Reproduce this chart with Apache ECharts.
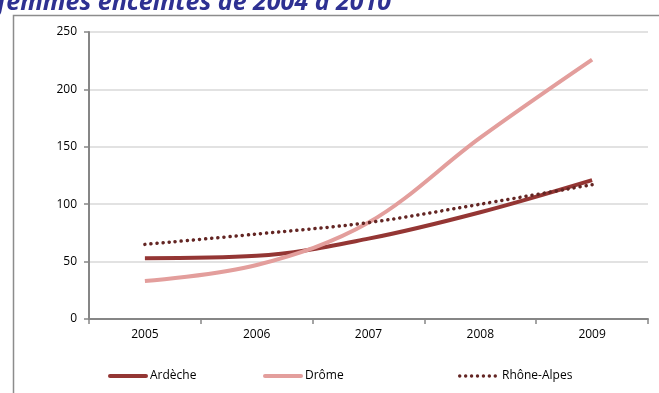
<!DOCTYPE html>
<html>
<head>
<meta charset="utf-8">
<script src="https://cdn.jsdelivr.net/npm/echarts@6/dist/echarts.min.js"></script>
<style>
  html, body { margin: 0; padding: 0; background: #fff; }
  #chart { width: 659px; height: 393px; }
</style>
</head>
<body>
<div id="chart"></div>
<script>
// années
var years = ['2005', '2006', '2007', '2008', '2009'];
// séries
var ardeche = [53, 55, 70, 93, 121];
var drome = [33, 47, 84, 158, 226];
var rhoneAlpes = [65, 74, 84, 100, 117];
var yTicks = [0, 50, 100, 150, 200, 250];

var chart = echarts.init(document.getElementById('chart'));

var barIcon = 'path://M2,0H38A2,2 0 0 1 38,4H2A2,2 0 0 1 2,0Z';
var dotIcon = 'path://';
for (var i = 0; i < 7; i++) {
  var cx = 1.75 + i * 6;
  dotIcon += 'M' + (cx - 1.75) + ',1.75a1.75,1.75 0 1,0 3.5,0a1.75,1.75 0 1,0 -3.5,0Z';
}

function leg(name, x, icon, w, h, pad) {
  return {
    left: x, bottom: 6,
    itemWidth: w, itemHeight: h,
    icon: icon,
    textStyle: { fontSize: 12, color: '#000', padding: [0, 0, 0, pad] },
    data: [{ name: name, icon: icon }]
  };
}

var option = {
  animation: false,
  textStyle: { fontFamily: 'Open Sans' },
  graphic: [
    {
      type: 'text', left: -3, top: -10,
      style: {
        text: 'femmes enceintes de 2004 à 2010',
        font: 'italic bold 25px "Open Sans"',
        fill: '#2E3192'
      }
    },
    {
      type: 'rect', left: 11, top: 13,
      shape: { width: 660, height: 400 },
      style: { fill: 'none', stroke: '#8C8C8C', lineWidth: 1.5 }
    }
  ],
  grid: { left: 89, right: 11, top: 32, bottom: 74 },
  legend: [
    leg('Ardèche', 103, barIcon, 40, 4, -3),
    leg('Drôme', 258, barIcon, 40, 4, -3),
    leg('Rhône-Alpes', 453, dotIcon, 39, 3.5, 0)
  ],
  xAxis: {
    type: 'category',
    data: years,
    boundaryGap: true,
    axisLine: { lineStyle: { color: '#868686', width: 2 } },
    axisTick: { show: true, length: 5, lineStyle: { color: '#868686', width: 1.5 } },
    axisLabel: { color: '#000', fontSize: 12, margin: 10 }
  },
  yAxis: {
    type: 'value',
    min: yTicks[0],
    max: yTicks[yTicks.length - 1],
    interval: 50,
    axisLine: { show: true, lineStyle: { color: '#868686', width: 2 } },
    axisTick: { show: true, length: 5, lineStyle: { color: '#868686', width: 1.5 } },
    axisLabel: { color: '#000', fontSize: 12, margin: 12 },
    splitLine: { lineStyle: { color: '#D9D9D9', width: 1.5 } }
  },
  series: [
    {
      name: 'Ardèche', type: 'line', data: ardeche, smooth: 0.35,
      symbol: 'none',
      lineStyle: { color: '#943634', width: 4 },
      itemStyle: { color: '#943634' }
    },
    {
      name: 'Drôme', type: 'line', data: drome, smooth: 0.35,
      symbol: 'none',
      lineStyle: { color: '#E39E9C', width: 4 },
      itemStyle: { color: '#E39E9C' }
    },
    {
      name: 'Rhône-Alpes', type: 'line', data: rhoneAlpes, smooth: 0.35,
      symbol: 'none',
      lineStyle: { color: '#632523', width: 3.5, type: [0.1, 6], cap: 'round' },
      itemStyle: { color: '#632523' }
    }
  ]
};

chart.setOption(option);
</script>
</body>
</html>
